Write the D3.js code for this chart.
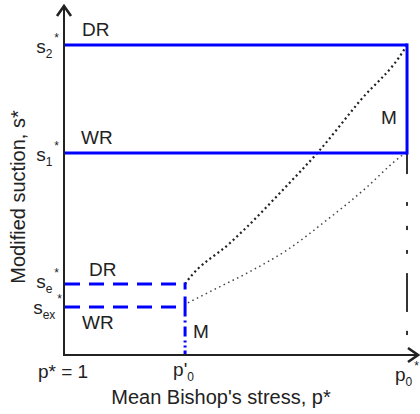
<!DOCTYPE html>
<html>
<head>
<meta charset="utf-8">
<script src="https://cdn.jsdelivr.net/npm/d3@7"></script>
<style>
  body { margin: 0; background: #fff; }
  text { font-family: "Liberation Sans", Arial, sans-serif; fill: #222; }
</style>
</head>
<body>
<div id="chart"></div>
<script>
// schematic values (arbitrary units 0..100 on both axes)
var pValues = [0, 34.2, 96.9];          // p* = 1, p'0, p0*
var sValues = [88.6, 57.7, 20.3, 13.7]; // s2*, s1*, se*, sex*

// upper (dense dotted) and lower (fine dotted) curves
var upperCurve = [[34.2,20.3],[35.0,21.4],[46.9,32.0],[51.7,36.6],[61.0,46.3],[72.3,58.6],[83.6,72.6],[96.0,87.1],[96.9,88.6]];
var lowerCurve = [[35.0,14.9],[43.2,19.1],[51.7,23.4],[63.0,30.0],[74.3,38.6],[85.6,48.0],[92.9,54.9],[96.3,57.7]];

// pieces of the dark dash-dot line below p0* (s from, s to)
var p0Pieces = [[57.7,51.7],[43.7,42.6],[36.9,35.7],[30.0,28.9],[23.4,12.3],[6.9,5.7]];

var W = 420, H = 414;
var svg = d3.select("#chart").append("svg").attr("width", W).attr("height", H);

var x = d3.scaleLinear().domain([0, 100]).range([64, 418]);
var y = d3.scaleLinear().domain([0, 100]).range([355, 5]);

var blue = "#0000ff";
var ink = "#222";

// dark dash-dot line at p0*
svg.selectAll(".p0piece").data(p0Pieces).enter().append("line")
  .attr("class", "p0piece")
  .attr("x1", x(pValues[2])).attr("x2", x(pValues[2]))
  .attr("y1", function(d){ return y(d[0]); }).attr("y2", function(d){ return y(d[1]); })
  .attr("stroke", "#333").attr("stroke-width", 2);

// curves
var line = d3.line().x(function(d){ return x(d[0]); }).y(function(d){ return y(d[1]); }).curve(d3.curveMonotoneX);
svg.append("path").attr("d", line(upperCurve))
  .attr("fill", "none").attr("stroke", ink).attr("stroke-width", 2.2)
  .attr("stroke-dasharray", "2,3");
svg.append("path").attr("d", line(lowerCurve))
  .attr("fill", "none").attr("stroke", "#444").attr("stroke-width", 1.5)
  .attr("stroke-dasharray", "1.5,3.5");

// solid blue: s2*, s1* and the M edge
svg.append("line").attr("x1", x(0)).attr("x2", x(pValues[2]))
  .attr("y1", y(sValues[0])).attr("y2", y(sValues[0]))
  .attr("stroke", blue).attr("stroke-width", 3);
svg.append("line").attr("x1", x(0)).attr("x2", x(pValues[2]))
  .attr("y1", y(sValues[1])).attr("y2", y(sValues[1]))
  .attr("stroke", blue).attr("stroke-width", 3);
svg.append("line").attr("x1", x(pValues[2])).attr("x2", x(pValues[2]))
  .attr("y1", y(sValues[0]) - 1.5).attr("y2", y(sValues[1]) + 1.5)
  .attr("stroke", blue).attr("stroke-width", 3);

// dashed blue: se*, sex*
[sValues[2], sValues[3]].forEach(function(s){
  svg.append("line").attr("x1", x(0) + 1).attr("x2", x(pValues[1]))
    .attr("y1", y(s)).attr("y2", y(s))
    .attr("stroke", blue).attr("stroke-width", 3)
    .attr("stroke-dasharray", "15,9");
});
// dash-dot blue at p'0
svg.append("line").attr("x1", x(pValues[1])).attr("x2", x(pValues[1]))
  .attr("y1", y(sValues[2]) - 1.5).attr("y2", y(0))
  .attr("stroke", blue).attr("stroke-width", 3)
  .attr("stroke-dasharray", "7,7,20,4,2,4,10,4,2,3,2,3");

// axes
svg.append("line").attr("x1", x(0)).attr("x2", x(0)).attr("y1", y(0)).attr("y2", y(100) + 1)
  .attr("stroke", ink).attr("stroke-width", 2);
svg.append("line").attr("x1", x(0) - 1).attr("x2", x(100) - 1).attr("y1", y(0)).attr("y2", y(0))
  .attr("stroke", ink).attr("stroke-width", 2);
svg.append("path").attr("d", "M" + (x(0) - 7) + "," + (y(100) + 11) + "L" + x(0) + "," + (y(100) + 1) + "L" + (x(0) + 7) + "," + (y(100) + 11))
  .attr("fill", "none").attr("stroke", ink).attr("stroke-width", 2.6);
svg.append("path").attr("d", "M" + (x(100) - 10) + "," + (y(0) - 7) + "L" + x(100) + "," + y(0) + "L" + (x(100) - 10) + "," + (y(0) + 7))
  .attr("fill", "none").attr("stroke", ink).attr("stroke-width", 2.6);

// helper for labels like s_sub^*
function subLabel(px, py, main, sub, sup, anchorRight) {
  var t = svg.append("text").attr("x", px).attr("y", py).style("font-size", "19px");
  t.append("tspan").text(main);
  t.append("tspan").attr("dy", 5).style("font-size", "12px").text(sub);
  if (sup) t.append("tspan").attr("dy", -16).attr("dx", 2).style("font-size", "12px").text(sup);
  if (anchorRight) t.attr("x", px - t.node().getComputedTextLength());
  return t;
}

// y labels
subLabel(x(0) - 7, y(sValues[0]) + 8, "s", "2", "*", true);
subLabel(x(0) - 7, y(sValues[1]) + 8, "s", "1", "*", true);
subLabel(x(0) - 7, y(sValues[2]) + 4, "s", "e", "*", true);
subLabel(x(0) - 4, y(sValues[3]) + 7, "s", "ex", "*", true);

// x labels
svg.append("text").attr("x", x(pValues[0]) - 26).attr("y", 378).style("font-size", "19px").text("p* = 1");
subLabel(x(pValues[1]) - 12, 376, "p'", "0", null, false);
subLabel(x(pValues[2]) - 12, 381, "p", "0", "*", false);

// region labels
function lab(px, py, s) {
  svg.append("text").attr("x", px).attr("y", py).style("font-size", "19px").text(s);
}
lab(82, 36, "DR");
lab(81, 144, "WR");
lab(381, 124, "M");
lab(89, 276, "DR");
lab(82, 329, "WR");
lab(193, 338, "M");

// axis titles
svg.append("text").attr("transform", "translate(25,197) rotate(-90)")
  .attr("text-anchor", "middle").style("font-size", "20px").text("Modified suction, s*");
svg.append("text").attr("x", 221).attr("y", 404).attr("text-anchor", "middle")
  .style("font-size", "20px").text("Mean Bishop's stress, p*");
</script>
</body>
</html>
